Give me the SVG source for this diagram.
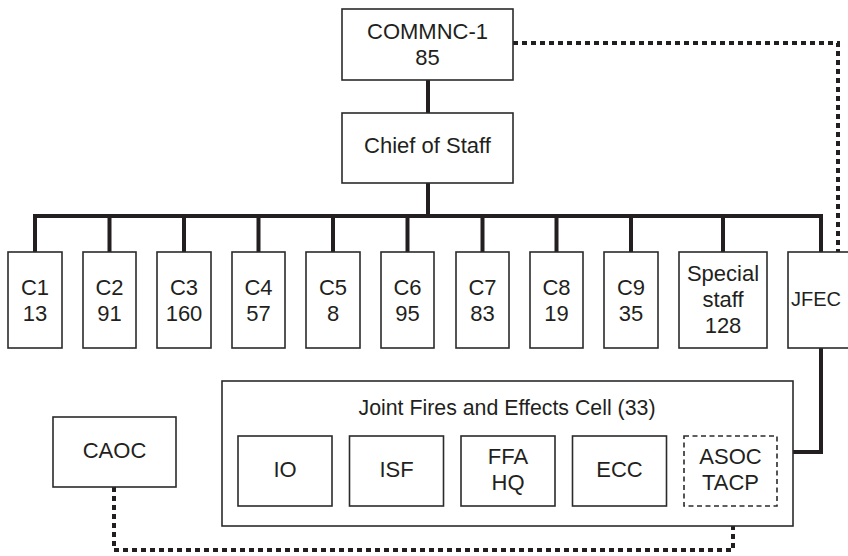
<svg xmlns="http://www.w3.org/2000/svg" width="848" height="556" viewBox="0 0 848 556">
<style>
  .box { fill: #fff; stroke: #2b2b2b; stroke-width: 1.6; }
  .dbox { fill: #fff; stroke: #2b2b2b; stroke-width: 1.6; stroke-dasharray: 5 3.5; }
  .t { font-family: "Liberation Sans", Arial, sans-serif; font-size: 22px; fill: #231f20; text-anchor: middle; }
  .tc { font-family: "Liberation Sans", Arial, sans-serif; font-size: 22px; fill: #231f20; text-anchor: middle; }
  .solid { fill: none; stroke: #231f20; stroke-width: 4; stroke-linejoin: miter; }
  .dot { fill: none; stroke: #231f20; stroke-width: 4; stroke-dasharray: 5 4; }
</style>
<rect width="848" height="556" fill="#fff"/>
<g id="connectors">
  <path class="dot" d="M513,43 H838 V252"/>
  <path class="dot" d="M114,487 V550 H733 V506"/>
  <path class="solid" d="M428,80 V113"/>
  <path class="solid" d="M428,183 V216"/>
  <path class="solid" d="M35,252 V216 H821 V252"/>
  <path class="solid" d="M109.5,216 V252 M184,216 V252 M258.5,216 V252 M333,216 V252 M407.5,216 V252 M482.5,216 V252 M556.5,216 V252 M631,216 V252 M723,216 V252"/>
  <path class="solid" d="M821,347 V452 H793"/>
</g>
<g id="commnc">
  <rect class="box" x="342" y="9" width="171" height="71"/>
  <text class="t" x="427.5" y="39">COMMNC-1</text>
  <text class="t" x="427.5" y="65">85</text>
</g>
<g id="chief">
  <rect class="box" x="342" y="113" width="171" height="70"/>
  <text class="t" x="427.5" y="153">Chief of Staff</text>
</g>
<g id="c1"><rect class="box" x="8" y="252" width="54" height="96"/><text class="t" x="35" y="294.5">C1</text><text class="t" x="35" y="320.5">13</text></g>
<g id="c2"><rect class="box" x="83" y="252" width="53" height="96"/><text class="t" x="109.5" y="294.5">C2</text><text class="t" x="109.5" y="320.5">91</text></g>
<g id="c3"><rect class="box" x="157" y="252" width="54" height="96"/><text class="t" x="184" y="294.5">C3</text><text class="t" x="184" y="320.5">160</text></g>
<g id="c4"><rect class="box" x="232" y="252" width="53" height="96"/><text class="t" x="258.5" y="294.5">C4</text><text class="t" x="258.5" y="320.5">57</text></g>
<g id="c5"><rect class="box" x="306" y="252" width="54" height="96"/><text class="t" x="333" y="294.5">C5</text><text class="t" x="333" y="320.5">8</text></g>
<g id="c6"><rect class="box" x="381" y="252" width="53" height="96"/><text class="t" x="407.5" y="294.5">C6</text><text class="t" x="407.5" y="320.5">95</text></g>
<g id="c7"><rect class="box" x="456" y="252" width="53" height="96"/><text class="t" x="482.5" y="294.5">C7</text><text class="t" x="482.5" y="320.5">83</text></g>
<g id="c8"><rect class="box" x="530" y="252" width="53" height="96"/><text class="t" x="556.5" y="294.5">C8</text><text class="t" x="556.5" y="320.5">19</text></g>
<g id="c9"><rect class="box" x="604" y="252" width="54" height="96"/><text class="t" x="631" y="294.5">C9</text><text class="t" x="631" y="320.5">35</text></g>
<g id="special"><rect class="box" x="679" y="252" width="88" height="96"/><text class="t" x="723" y="281">Special</text><text class="t" x="723" y="307">staff</text><text class="t" x="723" y="333">128</text></g>
<g id="jfec"><rect class="box" x="788" y="252" width="70" height="96"/><text class="t" x="816" y="306" style="font-size:20px">JFEC</text></g>
<g id="jfecell">
  <rect class="box" x="222" y="381" width="571" height="145"/>
  <text class="tc" x="507" y="415" textLength="297" lengthAdjust="spacingAndGlyphs">Joint Fires and Effects Cell (33)</text>
</g>
<g id="io"><rect class="box" x="238" y="436" width="94" height="70"/><text class="tc" x="285" y="477">IO</text></g>
<g id="isf"><rect class="box" x="349.5" y="436" width="94" height="70"/><text class="tc" x="396.5" y="477">ISF</text></g>
<g id="ffa"><rect class="box" x="461" y="436" width="94" height="70"/><text class="tc" x="508" y="463.5">FFA</text><text class="tc" x="508" y="489.5">HQ</text></g>
<g id="ecc"><rect class="box" x="572.5" y="436" width="94" height="70"/><text class="tc" x="619.5" y="477">ECC</text></g>
<g id="asoc"><rect class="dbox" x="684" y="436" width="93" height="70"/><text class="tc" x="730.5" y="463.5">ASOC</text><text class="tc" x="730.5" y="489.5">TACP</text></g>
<g id="caoc"><rect class="box" x="53" y="417" width="123" height="70"/><text class="tc" x="114.5" y="458">CAOC</text></g>
</svg>
